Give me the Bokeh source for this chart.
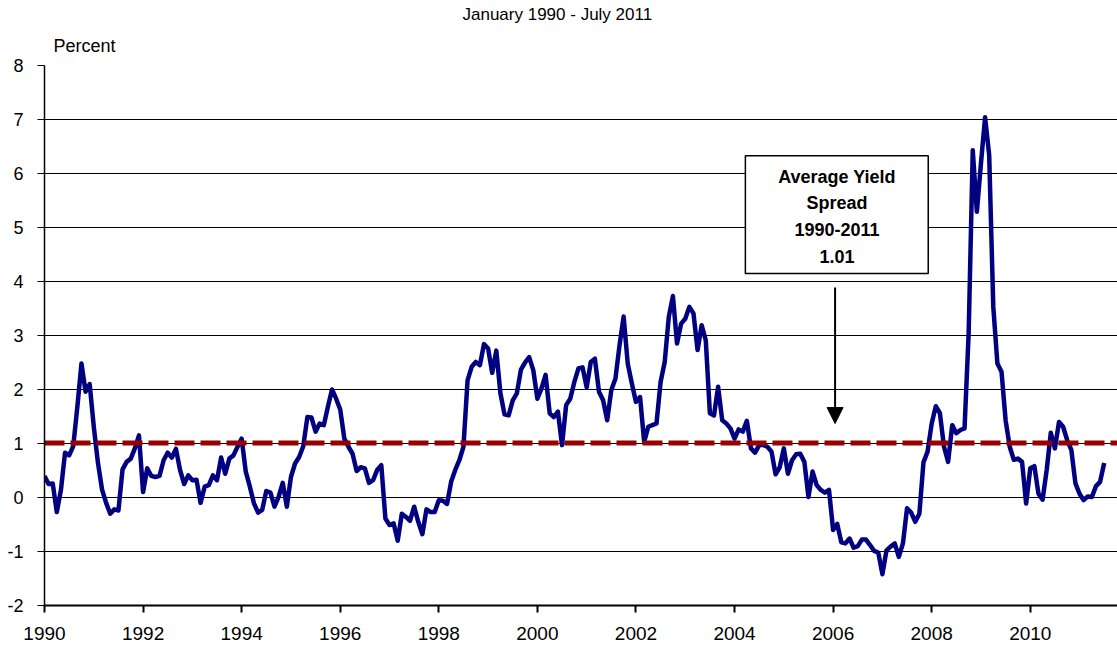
from bokeh.plotting import figure
from bokeh.models import (Range1d, FixedTicker, Span, BoxAnnotation, Label,
                          Arrow, NormalHead, Title, ColumnDataSource)
from bokeh.embed import file_html
from bokeh.resources import INLINE

# ---------------- data (monthly yield spread, percent) ----------------
spread_1990s = [
    0.40, 0.25, 0.26, -0.27, 0.14, 0.83, 0.78, 0.95, 1.68, 2.48, 1.96, 2.10,      # 1990
    1.31, 0.65, 0.15, -0.10, -0.30, -0.22, -0.24, 0.52, 0.66, 0.72, 0.91, 1.15,   # 1991
    0.10, 0.54, 0.40, 0.38, 0.40, 0.69, 0.83, 0.74, 0.90, 0.51, 0.25, 0.41,       # 1992
    0.32, 0.33, -0.10, 0.20, 0.23, 0.41, 0.32, 0.74, 0.44, 0.72, 0.78, 0.94,      # 1993
    1.09, 0.48, 0.20, -0.11, -0.28, -0.23, 0.12, 0.09, -0.17, 0.01, 0.27, -0.17,  # 1994
    0.38, 0.63, 0.75, 0.95, 1.49, 1.48, 1.22, 1.37, 1.34, 1.68, 2.00, 1.83,       # 1995
    1.63, 1.09, 0.94, 0.81, 0.49, 0.56, 0.54, 0.27, 0.32, 0.51, 0.60, -0.39,      # 1996
    -0.51, -0.48, -0.80, -0.30, -0.36, -0.43, -0.17, -0.45, -0.68, -0.22, -0.27, -0.27,  # 1997
    -0.05, -0.06, -0.12, 0.29, 0.51, 0.69, 0.94, 2.17, 2.42, 2.51, 2.45, 2.84,    # 1998
    2.76, 2.31, 2.72, 1.93, 1.54, 1.52, 1.80, 1.93, 2.37, 2.50, 2.60, 2.36,       # 1999
]
spread_2000s = [
    1.83, 2.02, 2.27, 1.56, 1.49, 1.59, 0.97, 1.71, 1.83, 2.14, 2.39, 2.41,       # 2000
    2.04, 2.51, 2.57, 1.96, 1.80, 1.43, 1.99, 2.20, 2.82, 3.35, 2.48, 2.11,       # 2001
    1.77, 1.86, 1.03, 1.31, 1.34, 1.37, 2.14, 2.51, 3.35, 3.73, 2.85, 3.22,       # 2002
    3.31, 3.53, 3.41, 2.73, 3.19, 2.91, 1.56, 1.52, 2.05, 1.43, 1.37, 1.28,       # 2003
    1.09, 1.26, 1.22, 1.42, 0.91, 0.83, 0.97, 0.97, 0.94, 0.85, 0.43, 0.56,       # 2004
    0.91, 0.44, 0.69, 0.80, 0.81, 0.66, 0.01, 0.48, 0.23, 0.14, 0.09, 0.14,       # 2005
    -0.60, -0.49, -0.83, -0.85, -0.76, -0.93, -0.90, -0.78, -0.78, -0.88, -0.99, -1.02,  # 2006
    -1.42, -0.98, -0.91, -0.85, -1.10, -0.85, -0.20, -0.28, -0.45, -0.30, 0.65, 0.85,    # 2007
    1.37, 1.69, 1.56, 0.94, 0.66, 1.34, 1.19, 1.25, 1.28, 3.04, 6.43, 5.29,       # 2008
    6.19, 7.04, 6.34, 3.53, 2.48, 2.33, 1.43, 0.94, 0.70, 0.72, 0.66, -0.11,      # 2009
]
spread_2010s = [
    0.54, 0.58, 0.07, -0.04, 0.51, 1.20, 0.91, 1.40, 1.31, 1.06, 0.88, 0.26,      # 2010
    0.07, -0.05, 0.02, 0.01, 0.21, 0.29, 0.64,                                    # 2011 (Jan-Jul)
]
average_spread = 1.01
start_year = 1990
x_tick_years = [1990, 1992, 1994, 1996, 1998, 2000, 2002, 2004, 2006, 2008, 2010]
y_ticks = [-2, -1, 0, 1, 2, 3, 4, 5, 6, 7, 8]
title_text = "January 1990 - July 2011"
y_title = "Percent"
box_lines = ["Average Yield", "Spread", "1990-2011", "1.01"]

spread = spread_1990s + spread_2000s + spread_2010s
months = [start_year + i / 12 for i in range(len(spread))]
src = ColumnDataSource(dict(x=months, y=spread))

FONT = "Liberation Sans"

p = figure(width=1117, height=650, output_backend="svg", toolbar_location=None,
           x_range=Range1d(1990, 2011.77), y_range=Range1d(-2, 8),
           min_border_left=44, min_border_right=0, min_border_top=65,
           min_border_bottom=45)
p.outline_line_color = None
p.background_fill_color = "white"
p.border_fill_color = "white"

# titles
p.title.text = title_text
p.title.text_font = FONT
p.title.text_font_size = "17px"
p.title.text_font_style = "normal"
p.title.align = "left"
p.title.offset = 418
p.title.standoff = 0
p.title.text_color = "black"
p.add_layout(Title(text=y_title, align="left", offset=9, text_font=FONT,
                   text_font_size="18px", text_font_style="normal",
                   text_color="black", standoff=20), "above")

# axes
p.xaxis.ticker = FixedTicker(ticks=x_tick_years)
p.xaxis.major_label_overrides = {t: str(t) for t in x_tick_years}
p.yaxis.ticker = FixedTicker(ticks=y_ticks)
p.yaxis.major_label_overrides = {t: str(t) for t in y_ticks}
for ax in (p.xaxis, p.yaxis):
    ax.axis_line_color = "black"
    ax.major_tick_line_color = "black"
    ax.minor_tick_line_color = None
    ax.major_tick_in = 0
    ax.major_tick_out = 7
    ax.major_label_text_font = FONT
    ax.major_label_text_color = "black"
p.xaxis.axis_line_width = 2
p.xaxis.major_tick_line_width = 2
p.yaxis.axis_line_width = 1.5
p.yaxis.major_tick_line_width = 1
p.xaxis.major_label_text_font_size = "19px"
p.yaxis.major_label_text_font_size = "18px"
p.xaxis.major_label_standoff = 14
p.yaxis.major_label_standoff = 14

p.xgrid.grid_line_color = None
p.ygrid.ticker = FixedTicker(ticks=y_ticks)
p.ygrid.grid_line_color = "black"
p.ygrid.grid_line_width = 1

# average line
p.add_layout(Span(location=average_spread, dimension="width",
                  line_color="#990000", line_width=5, line_dash="20 6",
                  level="glyph"))

# spread series
p.line("x", "y", source=src, line_color="#000080", line_width=4.5,
       line_join="round")

# annotation box
p.add_layout(BoxAnnotation(left=2004.22, right=2007.93, bottom=4.15, top=6.33,
                           fill_color="white", fill_alpha=1.0,
                           line_color="black", line_alpha=1.0, line_width=1.5))
label_y = [5.94, 5.45, 4.96, 4.47]
for txt, ly in zip(box_lines, label_y):
    p.add_layout(Label(x=2006.08, y=ly, text=txt, text_align="center",
                       text_baseline="middle", text_font=FONT,
                       text_font_size="18px", text_font_style="bold",
                       text_color="black"))

p.add_layout(Arrow(end=NormalHead(size=16, fill_color="black", line_color="black"),
                   x_start=2006.04, y_start=3.89, x_end=2006.04, y_end=1.37,
                   line_color="black", line_width=2))

open("out.html", "w").write(file_html(p, INLINE))
